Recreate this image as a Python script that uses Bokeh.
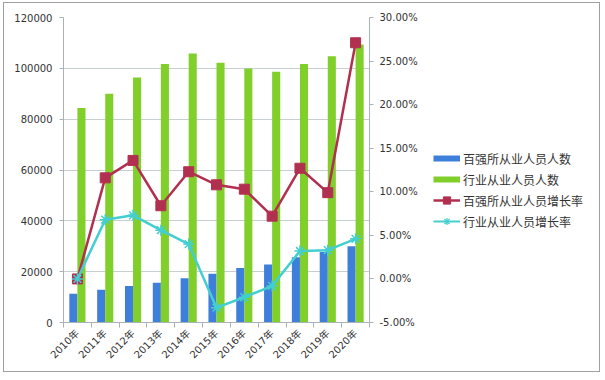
import math
from bokeh.plotting import figure
from bokeh.models import (Range1d, LinearAxis, FixedTicker, SingleIntervalTicker,
                          PrintfTickFormatter, NumeralTickFormatter, Legend, LegendItem,
                          ColumnDataSource, Row)
from bokeh.transform import dodge
from bokeh.embed import file_html
from bokeh.resources import INLINE

years = ["2010年", "2011年", "2012年", "2013年", "2014年", "2015年",
         "2016年", "2017年", "2018年", "2019年", "2020年"]
top100_staff = [11300, 12900, 14400, 15600, 17400, 19200, 21400, 22800, 25700, 27700, 30000]
industry_staff = [84400, 90000, 96400, 101700, 105800, 102200, 99900, 98700, 101700, 104800, 109400]
top100_growth = [0.0, 11.6, 13.6, 8.4, 12.3, 10.8, 10.3, 7.2, 12.7, 9.9, 27.1]
industry_growth = [0.0, 6.8, 7.3, 5.6, 4.0, -3.3, -2.1, -0.8, 3.2, 3.3, 4.6]
legend_labels = ["百强所从业人员人数", "行业从业人员人数", "百强所从业人员增长率", "行业从业人员增长率"]

idx = list(range(len(years)))
src = ColumnDataSource(dict(x=idx, a=top100_staff, b=industry_staff,
                            g1=top100_growth, g2=industry_growth))

FONT = "DejaVu Sans"
CJK = "Noto Sans CJK SC"
TXT = "#333333"
AX = "#A9B2B6"
BLUE, GREEN, RED, CYAN = "#3E7FDB", "#80CF2A", "#B2304F", "#43CFCF"

p = figure(width=416, height=368, output_backend="svg", toolbar_location=None,
           x_range=Range1d(-0.5, len(years) - 0.5), y_range=Range1d(0, 120000),
           min_border_left=59, min_border_right=50, min_border_top=14, min_border_bottom=49)
p.outline_line_color = None
p.xgrid.grid_line_color = None
p.ygrid.grid_line_color = "#C8CFD3"
p.ygrid.grid_line_width = 1

p.extra_y_ranges = {"pct": Range1d(-5, 30)}

p.vbar(x=dodge("x", -0.145), top="a", width=0.29, source=src,
       fill_color=BLUE, line_color=None)
p.vbar(x=dodge("x", 0.145), top="b", width=0.29, source=src,
       fill_color=GREEN, line_color=None)
p.line("x", "g1", source=src, y_range_name="pct", line_color=RED, line_width=2.5)
p.scatter("x", "g1", source=src, y_range_name="pct", marker="square", size=10,
          fill_color=RED, line_color=RED)
p.line("x", "g2", source=src, y_range_name="pct", line_color=CYAN, line_width=2.5)
p.scatter("x", "g2", source=src, y_range_name="pct", marker="asterisk", size=11,
          line_color=CYAN, line_width=1.5)

# x axis
xa = p.xaxis[0]
xa.ticker = FixedTicker(ticks=idx, minor_ticks=[i - 0.5 for i in range(len(years) + 1)])
xa.major_label_overrides = {i: y for i, y in zip(idx, years)}
xa.major_label_orientation = math.pi / 4
xa.major_tick_line_color = None
xa.minor_tick_line_color = AX
xa.minor_tick_out = 5
xa.minor_tick_in = 0
xa.axis_line_color = AX
xa.major_label_text_font = FONT + ", " + CJK
xa.major_label_text_font_size = "10px"
xa.major_label_text_color = TXT
xa.major_label_standoff = 3

# left axis
ya = p.yaxis[0]
ya.ticker = SingleIntervalTicker(interval=20000, num_minor_ticks=0)
ya.formatter = NumeralTickFormatter(format="0")
ya.axis_line_color = AX
ya.major_tick_line_color = AX
ya.major_tick_out = 4
ya.major_tick_in = 0
ya.minor_tick_line_color = None
ya.major_label_text_font = FONT
ya.major_label_text_font_size = "10px"
ya.major_label_text_color = TXT
ya.major_label_standoff = 7

# right axis
ra = LinearAxis(y_range_name="pct",
                ticker=SingleIntervalTicker(interval=5, num_minor_ticks=0),
                formatter=PrintfTickFormatter(format="%.2f%%"))
ra.axis_line_color = AX
ra.major_tick_line_color = AX
ra.major_tick_out = 4
ra.major_tick_in = 0
ra.minor_tick_line_color = None
ra.major_label_text_font = FONT
ra.major_label_text_font_size = "10px"
ra.major_label_text_color = TXT
ra.major_label_standoff = 6
p.add_layout(ra, "right")

# legend panel (separate figure to the right of the plot; its view range shows no data)
q = figure(width=179, height=368, output_backend="svg", toolbar_location=None,
           x_range=Range1d(100, 101), y_range=Range1d(0, 1),
           x_axis_type=None, y_axis_type=None,
           min_border_left=0, min_border_right=0, min_border_top=0, min_border_bottom=0)
q.outline_line_color = None
q.xgrid.grid_line_color = None
q.ygrid.grid_line_color = None
k1 = q.line("x", "g1", source=src, line_color=BLUE, line_width=6)
k2 = q.line("x", "g1", source=src, line_color=GREEN, line_width=6)
k3a = q.line("x", "g1", source=src, line_color=RED, line_width=2.5)
k3b = q.scatter("x", "g1", source=src, marker="square", fill_color=RED, line_color=RED)
k4a = q.line("x", "g2", source=src, line_color=CYAN, line_width=2)
k4b = q.scatter("x", "g2", source=src, marker="asterisk", line_color=CYAN, line_width=1.2)

legend = Legend(items=[
    LegendItem(label=legend_labels[0], renderers=[k1]),
    LegendItem(label=legend_labels[1], renderers=[k2]),
    LegendItem(label=legend_labels[2], renderers=[k3a, k3b]),
    LegendItem(label=legend_labels[3], renderers=[k4a, k4b]),
], location=(13, 92), padding=0, margin=0, border_line_color=None,
   background_fill_alpha=0, glyph_width=27, glyph_height=18, label_height=14,
   spacing=3, label_standoff=3, label_text_font=CJK, label_text_font_size="12px",
   label_text_color=TXT)
q.add_layout(legend, "center")

layout = Row(children=[p, q], spacing=0,
             styles={"border": "1px solid #a0a0a0", "margin-left": "3px", "margin-top": "2px"})

open("out.html", "w").write(file_html(layout, INLINE))
